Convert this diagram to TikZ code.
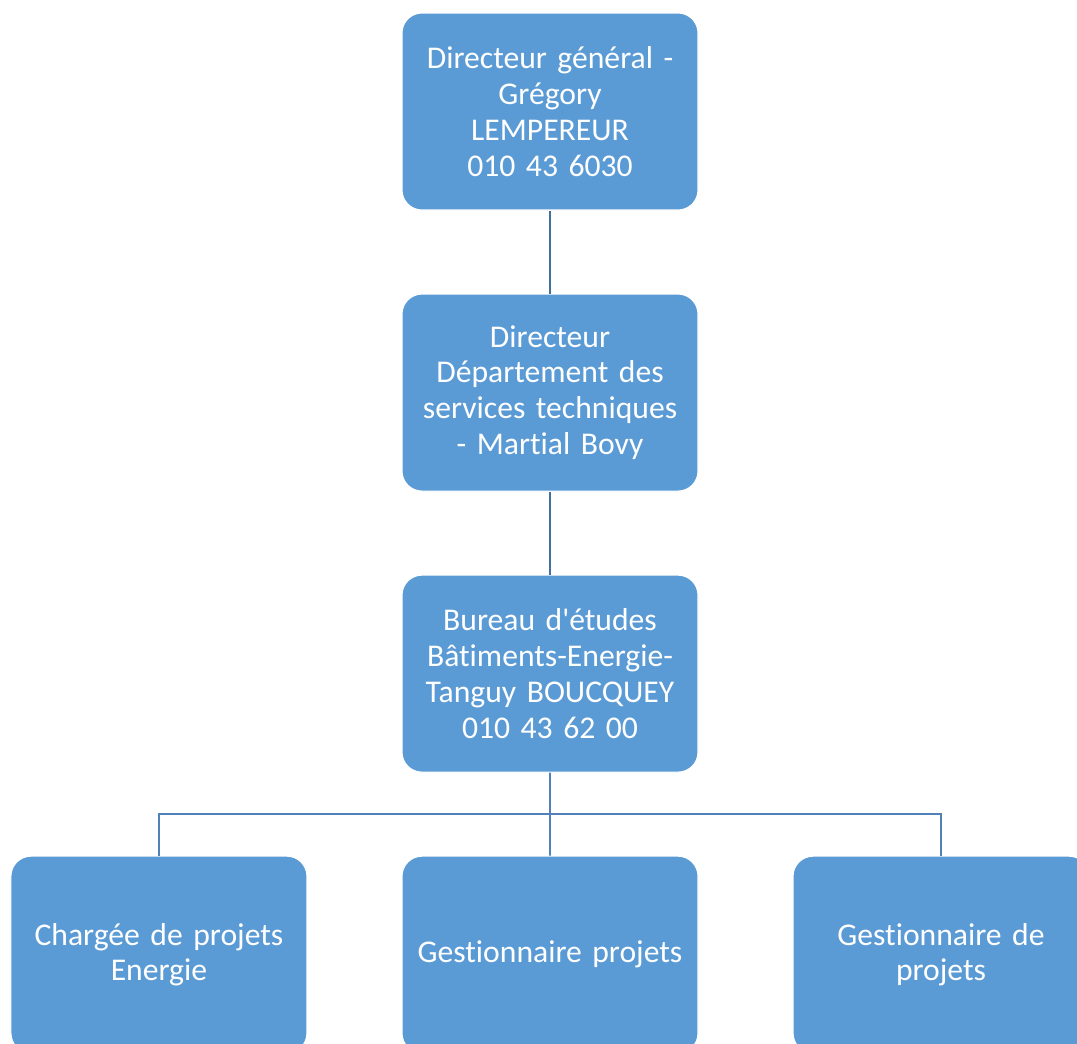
\documentclass[tikz,border=0pt]{standalone}
\usepackage{fontspec}
\setmainfont{Carlito}[Ligatures={TeX,NoCommon}]
\usetikzlibrary{positioning, calc}
\definecolor{boxblue}{RGB}{91,155,213}
\definecolor{linkdark}{RGB}{65,113,156}
\definecolor{linklight}{RGB}{80,130,185}
\tikzset{
  orgbox/.style={rectangle, fill=boxblue, draw=white, line width=0.6pt,
    rounded corners=0.4cm, minimum width=5.92cm, minimum height=3.94cm,
    text width=5.8cm, align=center, text=white, inner sep=0pt,
    font=\fontsize{18}{20.4}\selectfont},
  link/.style={line width=1.1pt, color=linkdark},
  buslink/.style={line width=1.1pt, color=linklight}
}
\begin{document}
\begin{tikzpicture}
  \useasboundingbox (0,0) rectangle (21.54,-20.86);
  \clip (0,0) rectangle (21.54,-20.86);
  % management chain
  \node[orgbox] (dg) at (11,-2.23) {Directeur général -\\Grégory\\LEMPEREUR\\010 43 6030};
  \node[orgbox, below=1.66cm of dg] (dst) {Directeur\\Département des\\services techniques\\- Martial Bovy};
  \node[orgbox, below=1.66cm of dst] (be) {Bureau d\textquotesingle études\\Bâtiments-Energie-\\Tanguy BOUCQUEY\\010 43 62 00};

  % project staff
  \node[orgbox, below=1.66cm of be] (gp) {Gestionnaire projets};
  \node[orgbox, left=1.88cm of gp] (cp) {Chargée de projets\\Energie};
  \node[orgbox, right=1.88cm of gp] (gdp) {Gestionnaire de\\projets};

  \coordinate (bus) at ($(be.south)!0.5!(gp.north)$);
  \draw[link] (dg) -- (dst);
  \draw[link] (dst) -- (be);
  \draw[buslink] (be.south) -- (bus) -- (gp.north);
  \draw[buslink] (cp.north) |- (bus) -| (gdp.north);
\end{tikzpicture}
\end{document}
